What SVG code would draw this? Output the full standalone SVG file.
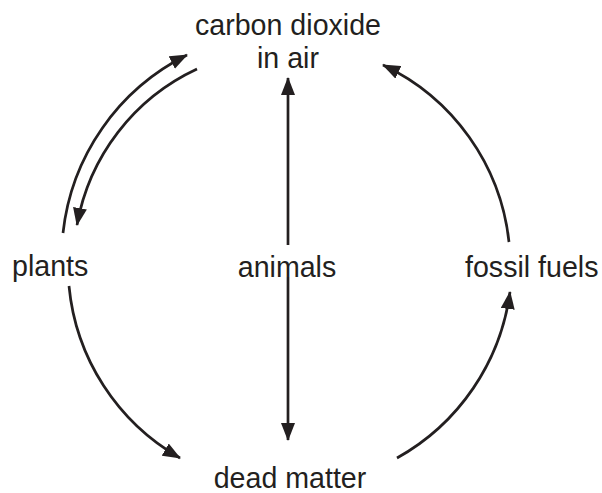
<svg xmlns="http://www.w3.org/2000/svg" width="602" height="493" viewBox="0 0 602 493">
<defs>
<style>
text{font-family:"Liberation Sans",Arial,sans-serif;font-size:28.6px;fill:#231f20}
.c{fill:none;stroke:#231f20;stroke-width:2.7;marker-end:url(#ah)}
</style>
<marker id="ah" viewBox="0 0 18 14" markerWidth="18" markerHeight="14" refX="17" refY="7" orient="auto" markerUnits="userSpaceOnUse">
<path d="M0,0 L18,7 L0,14 Z" fill="#231f20"/>
</marker>
</defs>
<rect width="602" height="493" fill="#fff"/>
<g id="co2"><text x="288" y="35" text-anchor="middle">carbon dioxide</text><text x="288" y="68" text-anchor="middle">in air</text></g>
<g id="plants"><text x="12" y="276">plants</text></g>
<g id="animals"><text x="287" y="277" text-anchor="middle">animals</text></g>
<g id="fossil"><text x="465" y="277">fossil fuels</text></g>
<g id="dead"><text x="290" y="488" text-anchor="middle">dead matter</text></g>
<g id="connectors">
<path class="c" d="M63,233 A226,226 0 0 1 187,55"/>
<path class="c" d="M197,69 A213,213 0 0 0 77,225"/>
<path class="c" d="M509,242 A222,222 0 0 0 383,65"/>
<path class="c" d="M69,286 A222,222 0 0 0 180,458"/>
<path class="c" d="M397,458 A224,224 0 0 0 510,292"/>
<path class="c" d="M288,245 L288,78"/>
<path class="c" d="M288,277 L288,440"/>
</g>
</svg>
